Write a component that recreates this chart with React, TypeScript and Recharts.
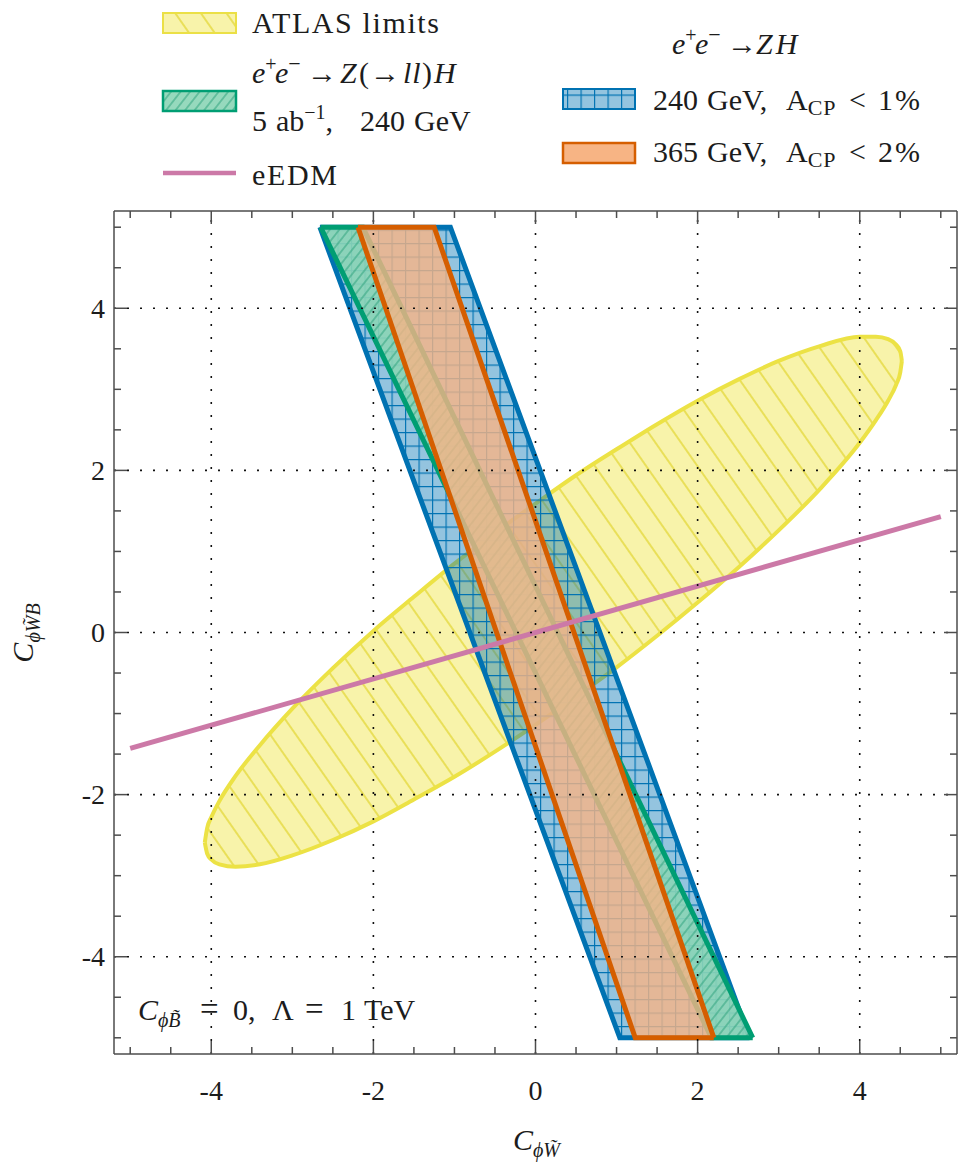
import React from 'react';
import { ComposedChart, Area, Line, XAxis, YAxis, ReferenceLine } from 'recharts';

const W = 958;
const H = 1168;
const SERIF = "'Liberation Serif', 'Times New Roman', serif";
const INK = '#1c1c1c';
const SPINE = '#4d4d4d';

const DOMAIN: [number, number] = [-5.2, 5.2];
const MAJOR_TICKS = [-4, -2, 0, 2, 4];
const MINOR_TICKS = [-5, -4.5, -3.5, -3, -2.5, -1.5, -1, -0.5, 0.5, 1, 1.5, 2.5, 3, 3.5, 4.5, 5];
const GRID_AT = [-4, -2, 0, 2, 4];
const ALL_TICKS = [...MAJOR_TICKS, ...MINOR_TICKS].sort((a, b) => a - b);

const YELLOW = '#f0e442';
const BLUE = '#0072b2';
const GREEN = '#009e73';
const ORANGE = '#d55e00';
const PINK = '#cc79a7';

// ATLAS limits: lower and upper edge of the ellipse, read at fixed x
const atlasX = [-4.08, -4.05, -4.0, -3.9, -3.7, -3.4, -3.0, -2.5, -2.0, -1.5, -1.0, -0.5, 0, 0.5, 1.0, 1.5, 2.0, 2.5, 3.0, 3.5, 4.0, 4.2, 4.35, 4.45, 4.5, 4.52];
const atlasLow = [-2.59, -2.73, -2.8, -2.86, -2.89, -2.86, -2.75, -2.56, -2.33, -2.06, -1.78, -1.47, -1.14, -0.79, -0.43, -0.04, 0.37, 0.8, 1.26, 1.76, 2.34, 2.62, 2.86, 3.06, 3.21, 3.35];
const atlasHigh = [-2.59, -2.41, -2.28, -2.08, -1.77, -1.39, -0.94, -0.44, 0.02, 0.44, 0.85, 1.23, 1.59, 1.94, 2.26, 2.57, 2.86, 3.12, 3.35, 3.53, 3.65, 3.65, 3.62, 3.55, 3.47, 3.35];

// bands: x of left/right corners on the top (y=5) and bottom (y=-5) edge
const BAND_TOP = 5;
const BAND_BOTTOM = -5;
const blueTop = [-2.66, -1.05];
const blueBottom = [1.04, 2.64];
const greenTop = [-2.65, -2.13];
const greenBottom = [2.17, 2.68];
const orangeTop = [-2.19, -1.25];
const orangeBottom = [1.23, 2.2];

// eEDM line
const eedmX = [-5, 5];
const eedmY = [-1.43, 1.43];

const atlasRows = atlasX.map((x, i) => ({ x, range: [atlasLow[i], atlasHigh[i]] }));
const eedmRows = eedmX.map((x, i) => ({ x, y: eedmY[i] }));

// parallelogram between two slanted edges, as a range area sampled at its corners
function bandRows(top: number[], bottom: number[]) {
  const [tl, tr] = top;
  const [bl, br] = bottom;
  const h = BAND_TOP - BAND_BOTTOM;
  const leftEdge = (x: number) => BAND_TOP - (h * (x - tl)) / (bl - tl);
  const rightEdge = (x: number) => BAND_TOP - (h * (x - tr)) / (br - tr);
  return [tl, tr, bl, br].map((x) => ({
    x,
    range: [Math.max(BAND_BOTTOM, leftEdge(x)), Math.min(BAND_TOP, rightEdge(x))],
  }));
}

const blueRows = bandRows(blueTop, blueBottom);
const greenRows = bandRows(greenTop, greenBottom);
const orangeRows = bandRows(orangeTop, orangeBottom);

const spineLine = { stroke: SPINE, strokeWidth: 1.5 };
const MAJOR_LEN = 13;
const MINOR_LEN = 7;
const isMajor = (v: number) => MAJOR_TICKS.includes(v);
const fmt = (v: number) => (v < 0 ? `-${-v}` : `${v}`);

// inward tick marks, drawn from the spine position the axis hands over
const BottomTick = ({ x, y, payload }: any) => {
  const major = isMajor(payload.value);
  return (
    <g>
      <line x1={x} y1={y} x2={x} y2={y - (major ? MAJOR_LEN : MINOR_LEN)} {...spineLine} />
      {major && (
        <text x={x} y={y + 46} textAnchor="middle" fontSize={28} fill={INK} fontFamily={SERIF}>{fmt(payload.value)}</text>
      )}
    </g>
  );
};
const TopTick = ({ x, y, payload }: any) => (
  <line x1={x} y1={y} x2={x} y2={y + (isMajor(payload.value) ? MAJOR_LEN : MINOR_LEN)} {...spineLine} />
);
const LeftTick = ({ x, y, payload }: any) => {
  const major = isMajor(payload.value);
  return (
    <g>
      <line x1={x} y1={y} x2={x + (major ? MAJOR_LEN : MINOR_LEN)} y2={y} {...spineLine} />
      {major && (
        <text x={x - 9} y={y + 9.5} textAnchor="end" fontSize={28} fill={INK} fontFamily={SERIF}>{fmt(payload.value)}</text>
      )}
    </g>
  );
};
const RightTick = ({ x, y, payload }: any) => (
  <line x1={x} y1={y} x2={x - (isMajor(payload.value) ? MAJOR_LEN : MINOR_LEN)} y2={y} {...spineLine} />
);

const Patterns: React.FC<{ prefix: string }> = ({ prefix }) => (
  <defs>
    <pattern id={`${prefix}atlas`} patternUnits="userSpaceOnUse" width={21} height={21} patternTransform="rotate(-35)">
      <rect width={21} height={21} fill={YELLOW} fillOpacity={0.45} />
      <line x1={10} y1={0} x2={10} y2={21} stroke="#e4d93e" strokeWidth={1.5} />
    </pattern>
    <pattern id={`${prefix}blue`} patternUnits="userSpaceOnUse" width={13.5} height={13.5}>
      <rect width={13.5} height={13.5} fill={BLUE} fillOpacity={0.42} />
      <path d="M0 0.6 H13.5 M0.6 0 V13.5" stroke={BLUE} strokeWidth={1.15} fill="none" />
    </pattern>
    <pattern id={`${prefix}green`} patternUnits="userSpaceOnUse" width={7.5} height={7.5} patternTransform="rotate(38)">
      <rect width={7.5} height={7.5} fill="#8bd5b6" fillOpacity={0.9} />
      <line x1={3.75} y1={0} x2={3.75} y2={7.5} stroke="#3aa983" strokeWidth={1.1} />
    </pattern>
  </defs>
);

const ORANGE_FILL = '#f7b484';
const SUP = 20;

const Overlay: React.FC = () => (
  <svg width={W} height={H} style={{ position: 'absolute', left: 0, top: 0, pointerEvents: 'none' }} fontFamily={SERIF} fill={INK} fontSize={30}>
    <Patterns prefix="leg-" />
    {/* legend, left column */}
    <rect x={163} y={13} width={73} height={20} fill="url(#leg-atlas)" stroke="#ebe046" strokeWidth={2} />
    <text x={252} y={33} textLength={187} lengthAdjust="spacing">ATLAS limits</text>

    <rect x={163} y={91} width={73} height={20} fill="url(#leg-green)" stroke={GREEN} strokeWidth={2.5} />
    <text y={83}>
      <tspan x={252} fontStyle="italic">e</tspan>
      <tspan fontSize={SUP} dy={-12}>+</tspan>
      <tspan x={275} dy={12} fontStyle="italic">e</tspan>
      <tspan fontSize={22} dy={-12}>−</tspan>
      <tspan x={307} dy={12}>→</tspan>
      <tspan x={340} fontStyle="italic">Z</tspan>
      <tspan x={359}>(</tspan>
      <tspan x={370}>→</tspan>
      <tspan x={403} fontStyle="italic" letterSpacing={1}>ll</tspan>
      <tspan x={422}>)</tspan>
      <tspan x={434} fontStyle="italic">H</tspan>
    </text>
    <text y={131}>
      <tspan x={252}>5</tspan>
      <tspan x={276}>ab</tspan>
      <tspan fontSize={SUP} dy={-12}>−1</tspan>
      <tspan dy={12}>,</tspan>
      <tspan x={360}>240</tspan>
      <tspan x={414}>GeV</tspan>
    </text>

    <line x1={163} y1={173} x2={236} y2={173} stroke={PINK} strokeWidth={4.5} />
    <text x={252} y={185} textLength={85} lengthAdjust="spacing">eEDM</text>

    {/* legend, right column */}
    <text y={54}>
      <tspan x={672} fontStyle="italic">e</tspan>
      <tspan fontSize={SUP} dy={-12}>+</tspan>
      <tspan x={695} dy={12} fontStyle="italic">e</tspan>
      <tspan fontSize={22} dy={-12}>−</tspan>
      <tspan x={727} dy={12}>→</tspan>
      <tspan x={756} fontStyle="italic" letterSpacing={3}>ZH</tspan>
    </text>
    <rect x={563} y={89} width={72} height={20} fill="url(#leg-blue)" stroke={BLUE} strokeWidth={2} />
    <text y={110}>
      <tspan x={653}>240</tspan>
      <tspan x={707}>GeV,</tspan>
      <tspan x={786}>A</tspan>
      <tspan fontSize={22} dy={5} letterSpacing={1}>CP</tspan>
      <tspan x={849} dy={-5}>&lt;</tspan>
      <tspan x={878} letterSpacing={2}>1%</tspan>
    </text>
    <rect x={563} y={143} width={72} height={20} fill={ORANGE_FILL} stroke={ORANGE} strokeWidth={2.5} />
    <text y={162}>
      <tspan x={653}>365</tspan>
      <tspan x={707}>GeV,</tspan>
      <tspan x={786}>A</tspan>
      <tspan fontSize={22} dy={5} letterSpacing={1}>CP</tspan>
      <tspan x={849} dy={-5}>&lt;</tspan>
      <tspan x={878} letterSpacing={2}>2%</tspan>
    </text>

    {/* annotation */}
    <text y={1020}>
      <tspan x={138} fontStyle="italic">C</tspan>
      <tspan fontSize={SUP} dy={7} fontStyle="italic">ϕB̃</tspan>
      <tspan x={200} dy={-7} fontSize={33}>=</tspan>
      <tspan x={233}>0,</tspan>
      <tspan x={272}>Λ</tspan>
      <tspan x={305} fontSize={33}>=</tspan>
      <tspan x={341}>1</tspan>
      <tspan x={364}>TeV</tspan>
    </text>

    {/* axis titles */}
    <text y={1150}>
      <tspan x={513} fontStyle="italic">C</tspan>
      <tspan fontSize={SUP} dy={7} fontStyle="italic">ϕW̃</tspan>
    </text>
    <text x={33} y={633} textAnchor="middle" transform="rotate(-90 33 633)">
      <tspan fontStyle="italic">C</tspan>
      <tspan fontSize={SUP} dy={7} fontStyle="italic">ϕW̃B</tspan>
    </text>
  </svg>
);

const App: React.FC = () => {
  return (
    <div style={{ position: 'absolute', left: 0, top: 0, width: W, height: H, background: '#fff', fontFamily: SERIF }}>
      <ComposedChart width={W} height={H} margin={{ top: 211, right: 1, bottom: 0, left: 0 }} style={{ fontFamily: SERIF }}>
        <Patterns prefix="plot-" />

        <XAxis xAxisId="x" type="number" dataKey="x" domain={DOMAIN} allowDataOverflow ticks={ALL_TICKS} interval={0}
          height={114} tickSize={0} tickMargin={0} tickLine={false} axisLine={spineLine} tick={BottomTick} />
        <XAxis xAxisId="xt" orientation="top" type="number" dataKey="x" domain={DOMAIN} allowDataOverflow ticks={ALL_TICKS} interval={0}
          mirror height={1} tickSize={0} tickMargin={0} tickLine={false} axisLine={spineLine} tick={TopTick} />
        <YAxis yAxisId="y" type="number" domain={DOMAIN} allowDataOverflow ticks={ALL_TICKS} interval={0}
          width={114} tickSize={0} tickMargin={0} tickLine={false} axisLine={spineLine} tick={LeftTick} />
        <YAxis yAxisId="yr" orientation="right" type="number" domain={DOMAIN} allowDataOverflow ticks={ALL_TICKS} interval={0}
          mirror width={1} tickSize={0} tickMargin={0} tickLine={false} axisLine={spineLine} tick={RightTick} />

        <Area data={atlasRows} dataKey="range" xAxisId="x" yAxisId="y" type="monotone"
          stroke="#ece245" strokeWidth={4} fill="url(#plot-atlas)" fillOpacity={1}
          dot={false} activeDot={false} isAnimationActive={false} />
        <Area data={blueRows} dataKey="range" xAxisId="x" yAxisId="y" type="linear"
          stroke={BLUE} strokeWidth={5} strokeLinejoin="miter" fill="url(#plot-blue)" fillOpacity={1}
          dot={false} activeDot={false} isAnimationActive={false} />
        <Area data={greenRows} dataKey="range" xAxisId="x" yAxisId="y" type="linear"
          stroke={GREEN} strokeWidth={5} strokeLinejoin="miter" fill="url(#plot-green)" fillOpacity={1}
          dot={false} activeDot={false} isAnimationActive={false} />
        <Area data={orangeRows} dataKey="range" xAxisId="x" yAxisId="y" type="linear"
          stroke={ORANGE} strokeWidth={5} strokeLinejoin="miter" fill={ORANGE_FILL} fillOpacity={0.8}
          dot={false} activeDot={false} isAnimationActive={false} />
        <Line data={eedmRows} dataKey="y" xAxisId="x" yAxisId="y" type="linear"
          stroke={PINK} strokeWidth={5} dot={false} activeDot={false} isAnimationActive={false} />

        {GRID_AT.map((v) => (
          <ReferenceLine key={`gx${v}`} xAxisId="x" yAxisId="y" x={v} stroke="#111" strokeWidth={1.6} strokeDasharray="2 11" zIndex={450} />
        ))}
        {GRID_AT.map((v) => (
          <ReferenceLine key={`gy${v}`} xAxisId="x" yAxisId="y" y={v} stroke="#111" strokeWidth={1.6} strokeDasharray="2 11" zIndex={450} />
        ))}
      </ComposedChart>
      <Overlay />
    </div>
  );
};

export default App;
